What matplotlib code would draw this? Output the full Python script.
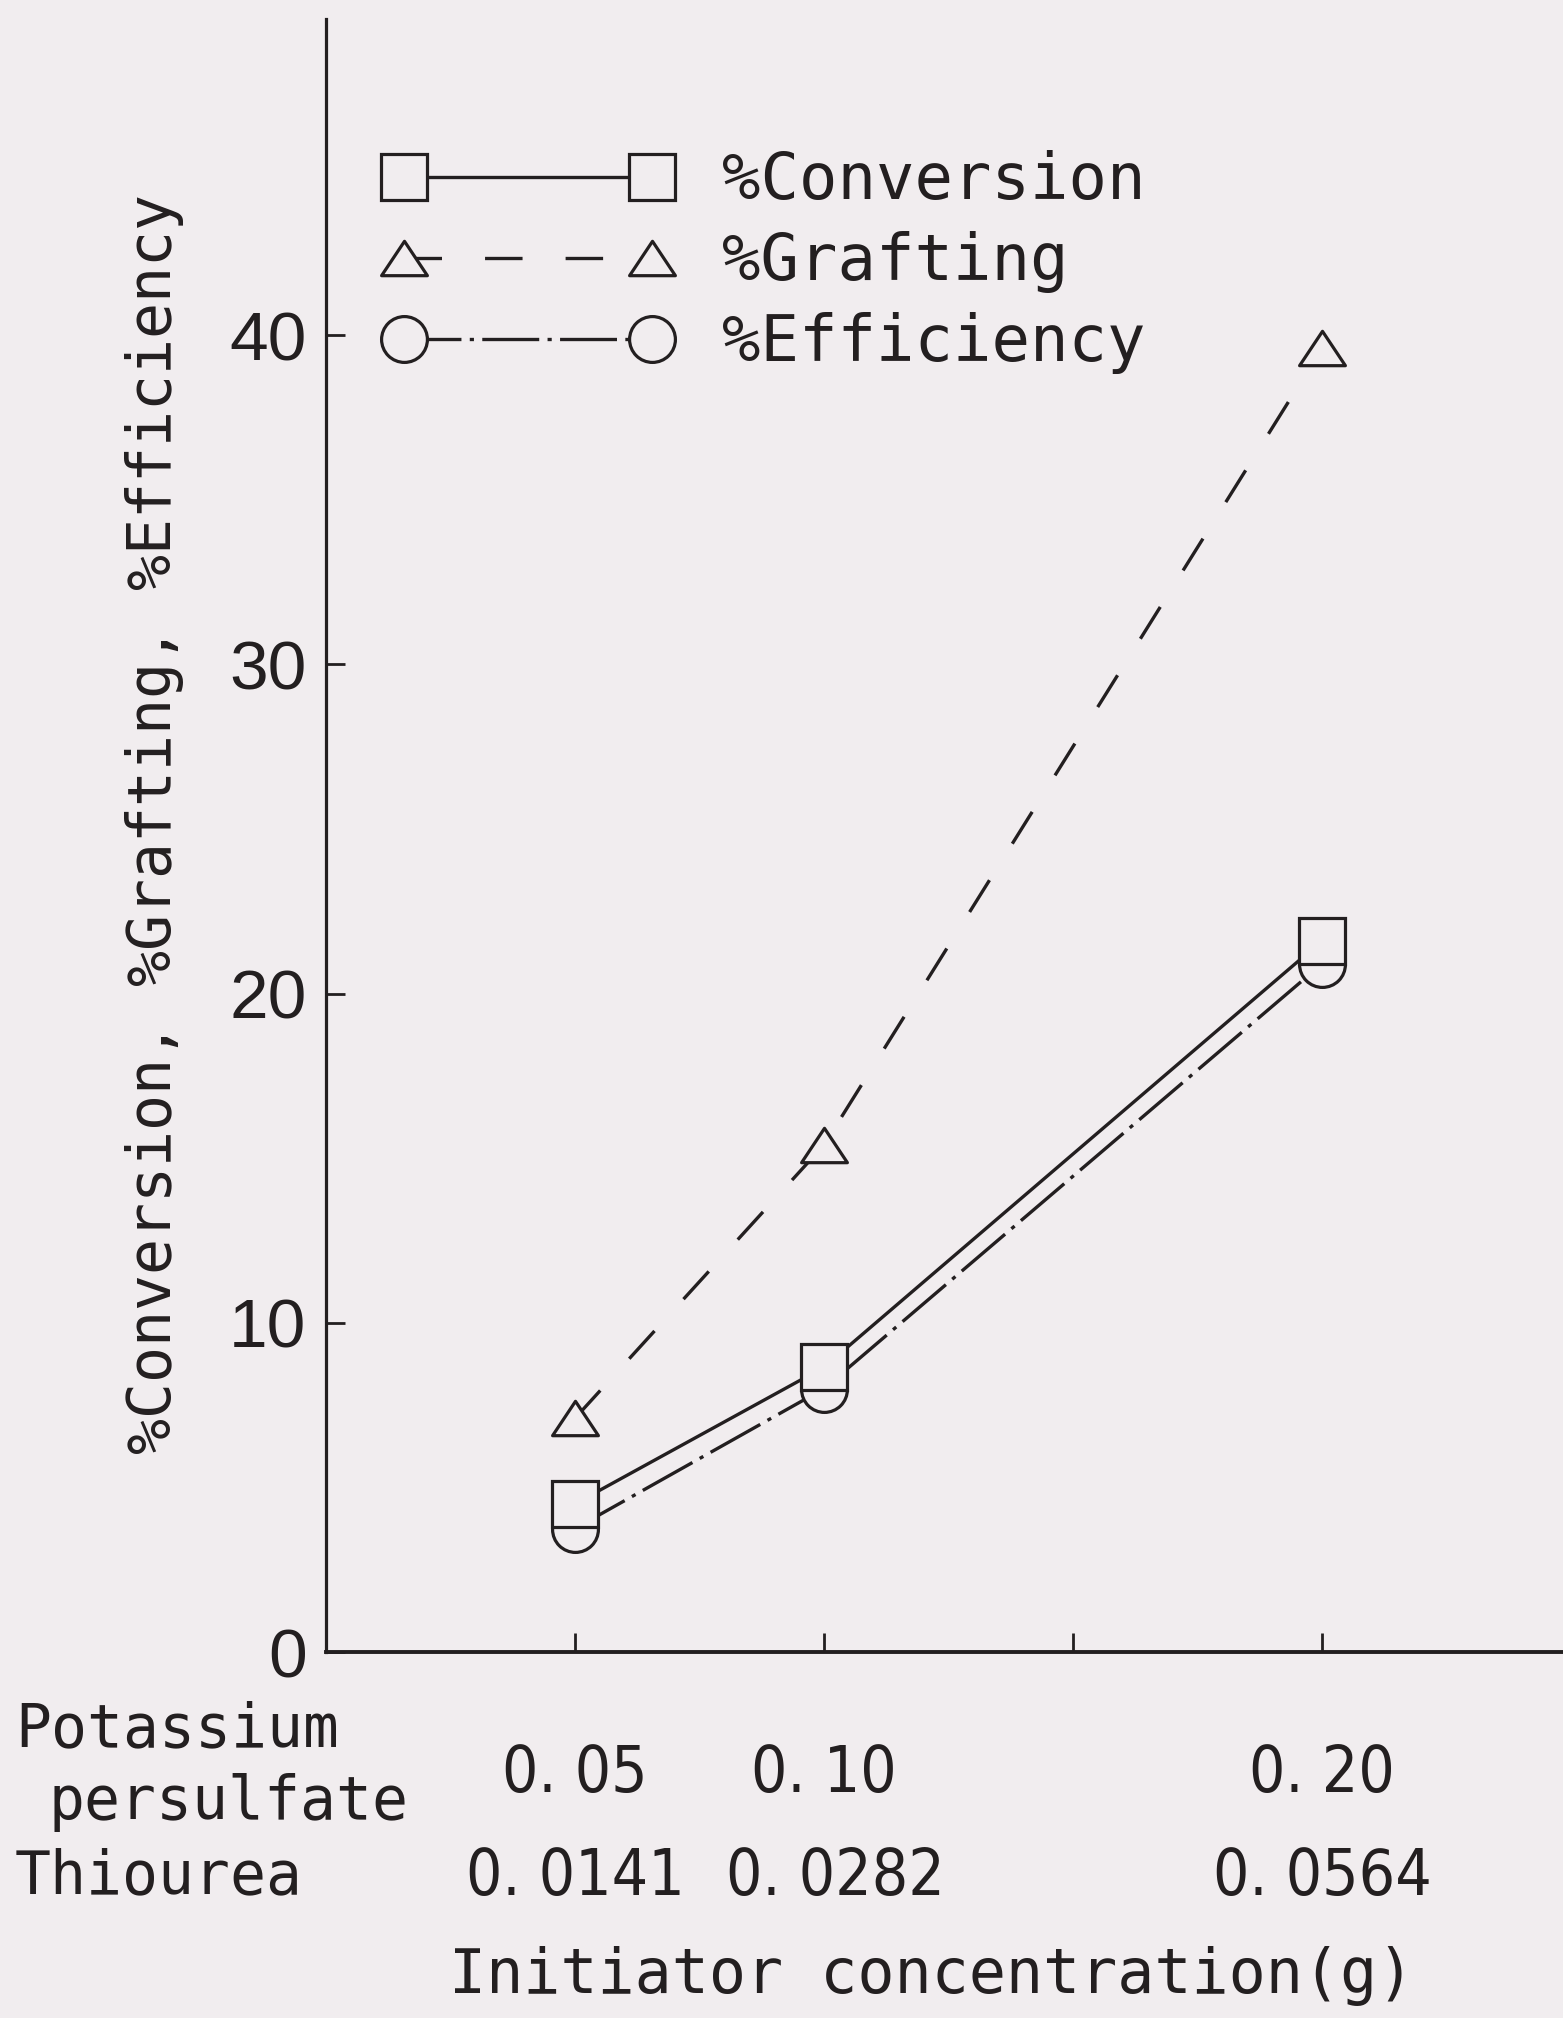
import matplotlib
matplotlib.use("Agg")
import matplotlib.pyplot as plt
from matplotlib import font_manager
from matplotlib.font_manager import FontProperties
from matplotlib.path import Path

# data
kps_amount = [0.05, 0.10, 0.20]          # potassium persulfate (g)
kps_labels = ["0. 05", "0. 10", "0. 20"]
thio_labels = ["0. 0141", "0. 0282", "0. 0564"]
conversion = [4.5, 8.65, 21.6]
grafting = [7.1, 15.4, 39.6]
efficiency = [3.75, 8.0, 20.9]
x_ticks = [0.05, 0.10, 0.15, 0.20]
y_ticks = [0, 10, 20, 30, 40]

BG = "#f1edef"
INK = "#231f20"
W, H = 1563, 2018
MONO = "DejaVu Sans Mono"


def find_narrow_font():
    # the scan uses a tall condensed face for the numbers
    fonts = font_manager.fontManager.ttflist
    for f in fonts:
        if f.name == "Liberation Sans Narrow" and f.style == "normal" and f.weight in (400, "normal"):
            return f.fname, 54
    for f in fonts:
        n = f.fname.lower()
        if ("condensed" in n or "narrow" in n) and not any(
                k in n for k in ("bold", "italic", "oblique", "light", "semi", "extra", "mono", "thin", "black", "medium")):
            return f.fname, 46
    return None, 44


narrow_path, num_size = find_narrow_font()
if narrow_path:
    num_font = FontProperties(fname=narrow_path, size=num_size)
else:
    num_font = FontProperties(family="Liberation Sans", size=num_size)

plt.rcParams["lines.scale_dashes"] = False

fig = plt.figure(figsize=(W / 100, H / 100), dpi=100, facecolor=BG)
ax = fig.add_axes([326 / W, (H - 1652) / H, (W - 326) / W, (1652 - 19) / H])
ax.set_facecolor(BG)

tri = Path([(0, 0.75), (-1, -0.75), (1, -0.75), (0, 0.75)],
           [Path.MOVETO, Path.LINETO, Path.LINETO, Path.CLOSEPOLY])

common = dict(color=INK, lw=2.4, mec=INK, mfc=BG, mew=2.3)
ax.plot(kps_amount, efficiency, marker="o", ms=33,
        dashes=(41, 6, 3, 6), label="%Efficiency", zorder=3, **common)
ax.plot(kps_amount, conversion, marker="s", ms=32.5, ls="-",
        label="%Conversion", zorder=4, **common)
ax.plot(kps_amount, grafting, marker=tri, ms=33,
        dashes=(27, 31), label="%Grafting", zorder=5, **common)

ax.set_xlim(0, 0.2484)
ax.set_ylim(0, 49.6)
for s in ["top", "right"]:
    ax.spines[s].set_visible(False)
ax.spines["left"].set_linewidth(2.3)
ax.spines["bottom"].set_linewidth(2.8)
ax.spines["left"].set_color(INK)
ax.spines["bottom"].set_color(INK)

ax.set_xticks(x_ticks)
ax.set_xticklabels([])
ax.set_yticks(y_ticks)
ax.set_yticklabels([str(v) for v in y_ticks], family="Liberation Sans",
                   fontsize=50, color=INK)
ax.tick_params(axis="both", direction="in", length=14, width=2.0, color=INK)
ax.tick_params(axis="y", pad=14)

# two rows of x labels under the ticks (small nudges as in the scan)
row_nudge = [0, 0, 0]
thio_nudge = [0, 8, 0]
xtr = ax.get_xaxis_transform()
for x, a, b, da, db in zip(kps_amount, kps_labels, thio_labels, row_nudge, thio_nudge):
    ax.annotate(a, (x, -(1792 - 1652) / 1633), xycoords=xtr,
                xytext=(da, 0), textcoords="offset points", ha="center",
                va="baseline", fontproperties=num_font, color=INK)
    ax.annotate(b, (x, -(1895 - 1652) / 1633), xycoords=xtr,
                xytext=(db, 0), textcoords="offset points", ha="center",
                va="baseline", fontproperties=num_font, color=INK)

txt = dict(family=MONO, color=INK, va="baseline")
fig.text(15 / W, 1 - 1746 / H, "Potassium", fontsize=43, ha="left", **txt)
fig.text(48 / W, 1 - 1819 / H, "persulfate", fontsize=43, ha="left", **txt)
fig.text(15 / W, 1 - 1893 / H, "Thiourea", fontsize=43, ha="left", **txt)
fig.text(932 / W, 1 - 1993 / H, "Initiator concentration(g)", fontsize=44.5,
         ha="center", **txt)
fig.text(155 / W, 1 - 824 / H, "%Conversion, %Grafting, %Efficiency",
         family=MONO, color=INK, fontsize=43, rotation=90,
         ha="center", va="center")

h, l = ax.get_legend_handles_labels()
order = [1, 2, 0]
leg = ax.legend([h[i] for i in order], [l[i] for i in order],
                loc="upper left", bbox_to_anchor=(385 / W, 1 - 150 / H),
                bbox_transform=fig.transFigure, frameon=False, numpoints=2,
                handlelength=4.48, handletextpad=0.8, labelspacing=0.3,
                borderpad=0, borderaxespad=0,
                prop={"family": MONO, "size": 46})
for t in leg.get_texts():
    t.set_color(INK)

fig.savefig("out.png", dpi=100, facecolor=BG)
